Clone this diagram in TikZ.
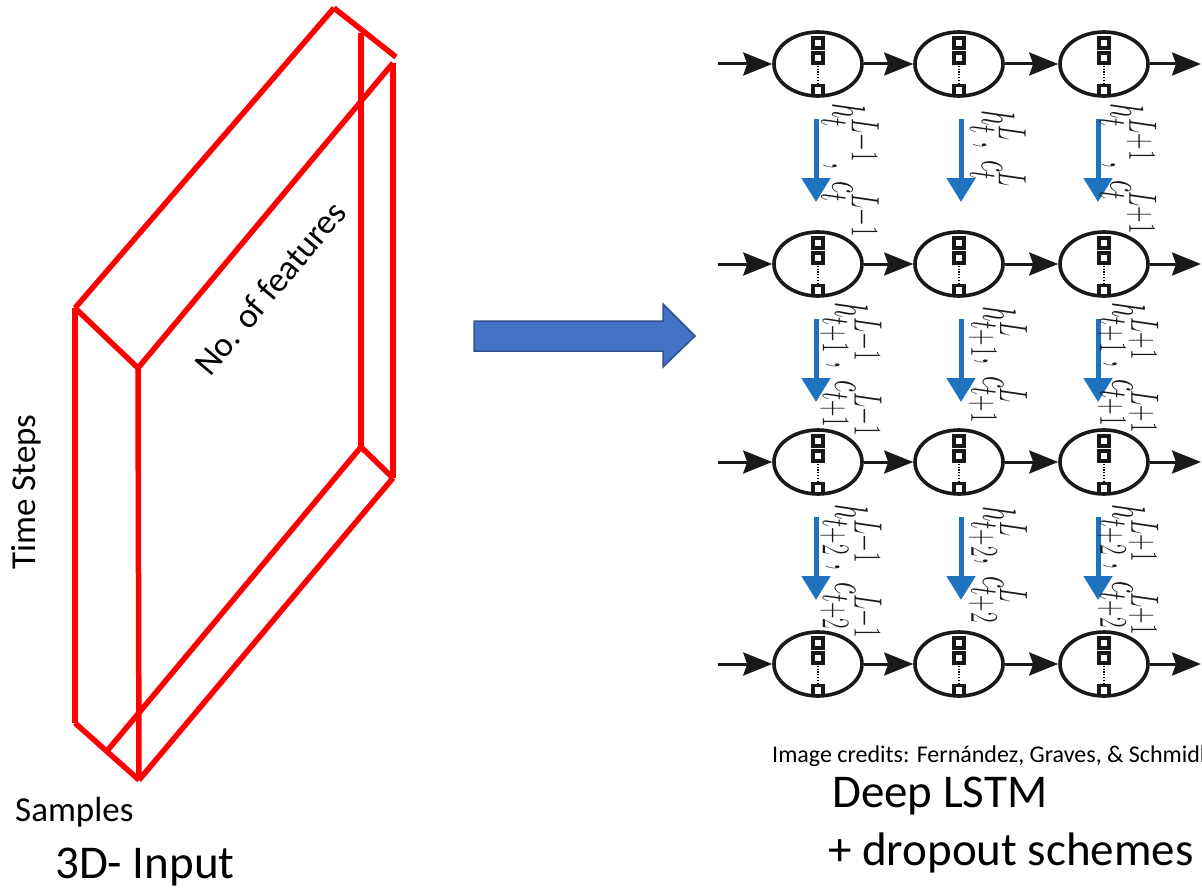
\documentclass[tikz,border=0pt]{standalone}
\usepackage{fontspec}
\setmainfont{Carlito}
\usetikzlibrary{arrows.meta,calc,shapes.geometric}
\definecolor{dropblue}{RGB}{31,114,190}
\definecolor{bigfill}{RGB}{68,114,196}
\definecolor{bigedge}{RGB}{47,82,143}
\begin{document}
\begin{tikzpicture}[x=1pt,y=-1pt,
  redline/.style={draw=red,line width=5.5pt},
  cell/.style={ellipse,draw=black!90,line width=3.6pt,minimum width=88pt,minimum height=64pt,inner sep=0pt},
  flow/.style={draw=black!90,line width=3pt,-{Stealth[length=29pt,width=23pt,inset=4pt]}},
  drop/.style={draw=dropblue,line width=5pt,-{Triangle[length=24pt,width=28pt]}},
  gate/.style={draw=black!90,line width=3.8pt},
  lab/.style={rotate=-90,anchor=west,inner sep=0pt,text=black!90,font=\fontsize{28}{30}\selectfont},
  txt/.style={inner sep=0pt,font=\fontsize{35}{40}\selectfont},
  big/.style={inner sep=0pt,font=\fontsize{47}{52}\selectfont}]
\useasboundingbox (0,0) rectangle (1202,888);

% ---- 3D input block ----
\coordinate (A) at (334,8);
\coordinate (B) at (396,57);
\coordinate (P) at (75,308);
\coordinate (F) at (138,368);
\coordinate (R) at (393,63);
\coordinate (Bt) at (361,33);
\coordinate (Bb) at (361,447);
\coordinate (Rb) at (393,478);
\coordinate (Pb) at (75,723);
\coordinate (Fb) at (139,780);
\coordinate (M) at (107,751);
\draw[redline] (A) -- (B);
\draw[redline] (A) -- (P);
\draw[redline] (P) -- (F);
\draw[redline] (F) -- (R);
\draw[redline] (Bt) -- (Bb);
\draw[redline] (R) -- (Rb);
\draw[redline] (P) -- (Pb);
\draw[redline] (F) -- (Fb);
\draw[redline] (Pb) -- (Fb);
\draw[redline] (Bb) -- (Rb);
\draw[redline] (Bb) -- (M);
\draw[redline] (Rb) -- (Fb);

\node[txt,rotate=50] (feat) at (270,288) {No. of features};
\node[txt,rotate=90] (tsteps) at (26,492) {Time Steps};
\node[txt,anchor=base west] (samples) at (15,821) {Samples};
\node[big,anchor=base west] (input) at (55,878) {3D- Input};

% ---- block arrow ----
\draw[fill=bigfill,draw=bigedge,line width=1.5pt,line join=miter]
  (474,321) -- (663,321) -- (663,304) -- (695,336) -- (663,367) -- (663,351) -- (474,351) -- cycle;

% ---- deep LSTM grid ----
\foreach \r/\y in {1/64,2/264,3/462,4/664}{
  \coordinate (in\r) at (718,\y);
  \coordinate (out\r) at (1201,\y);
  \foreach \c/\x in {1/818,2/959,3/1104}{
    \node[cell] (c\r\c) at (\x,\y) {};
    \draw[gate] ($(c\r\c.center)+(-5,-26)$) rectangle ++(10,10);
    \draw[gate] ($(c\r\c.center)+(-5,-11)$) rectangle ++(10,10);
    \draw[gate] ($(c\r\c.center)+(-5,21.5)$) rectangle ++(10,10);
    \draw[black,line width=2pt,dash pattern=on 1.2pt off 1.6pt] ($(c\r\c.center)+(0,-1)$) -- ($(c\r\c.center)+(0,20)$);
  }
  \draw[flow] (in\r) -- (c\r1);
  \draw[flow] (c\r1) -- (c\r2);
  \draw[flow] (c\r2) -- (c\r3);
  \draw[flow] (c\r3) -- (out\r);
}

% ---- vertical hand-over between layers ----
\foreach \r/\y in {1/64,2/264,3/462}{
  \foreach \c/\x in {1/816,2/961,3/1098}{
    \coordinate (ds\r\c) at (\x,\y+55);
    \coordinate (de\r\c) at (\x,\y+138);
    \draw[drop] (ds\r\c) -- (de\r\c);
  }
}

% ---- state labels ----
\newcommand{\stlab}[1]{\scalebox{1.1}[1.9]{$#1$}}
\node[lab] (l11) at (850,103) {\stlab{h_t^{L-1},\ c_t^{L-1}}};
\node[lab] (l12) at (998,110) {\stlab{h_t^{L},\ c_t^{L}}};
\node[lab] (l13) at (1128,103) {\stlab{h_t^{L+1},\ c_t^{L+1}}};
\node[lab] (l21) at (851,302) {\stlab{h_{t+1}^{L-1},\ c_{t+1}^{L-1}}};
\node[lab] (l22) at (998,306) {\stlab{h_{t+1}^{L},\ c_{t+1}^{L}}};
\node[lab] (l23) at (1128,302) {\stlab{h_{t+1}^{L+1},\ c_{t+1}^{L+1}}};
\node[lab] (l31) at (851,504) {\stlab{h_{t+2}^{L-1},\ c_{t+2}^{L-1}}};
\node[lab] (l32) at (998,506) {\stlab{h_{t+2}^{L},\ c_{t+2}^{L}}};
\node[lab] (l33) at (1128,504) {\stlab{h_{t+2}^{L+1},\ c_{t+2}^{L+1}}};

% ---- captions ----
\begin{scope}
  \clip (0,0) rectangle (1202,888);
  \node[anchor=base west,inner sep=0pt,font=\fontsize{24}{26}\selectfont] (credits) at (772,762)
    {Image credits: Fernández, Graves, \& Schmidhuber};
\end{scope}
\node[big,anchor=base west] (deep) at (832,807) {Deep LSTM};
\node[big,anchor=base west] (drop) at (828,865) {+ dropout schemes};
\end{tikzpicture}
\end{document}
